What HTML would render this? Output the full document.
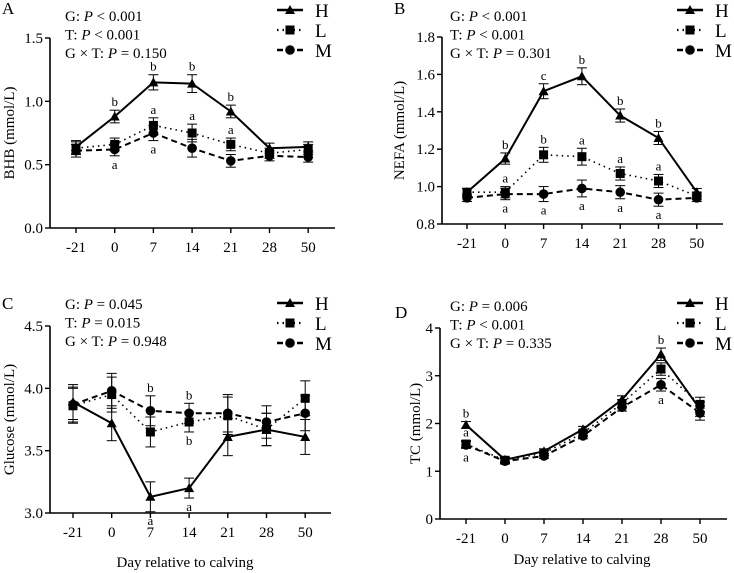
<!DOCTYPE html>
<html><head><meta charset="utf-8">
<style>
body{margin:0;background:#fff;}
svg{display:block;font-family:"Liberation Serif",serif;}
</style></head>
<body>
<svg id="fig" width="734" height="573" viewBox="0 0 734 573" xmlns="http://www.w3.org/2000/svg"></svg>
<script>
const days = ["-21","0","7","14","21","28","50"];
const seriesNames = ["H","L","M"];
// Panel A BHB
const bhbH = [0.64,0.88,1.15,1.14,0.92,0.63,0.64];
const bhbL = [0.63,0.66,0.81,0.75,0.66,0.59,0.62];
const bhbM = [0.61,0.62,0.75,0.63,0.53,0.57,0.56];
const bhbErr = [0.05,0.05,0.06,0.07,0.05,0.04,0.04];
// Panel B NEFA
const nefaH = [0.97,1.15,1.51,1.59,1.38,1.26,0.97];
const nefaL = [0.97,0.97,1.17,1.16,1.07,1.03,0.95];
const nefaM = [0.94,0.96,0.96,0.99,0.97,0.93,0.94];
const nefaErr = [0.02,0.03,0.04,0.045,0.035,0.035,0.02];
// Panel C Glucose
const gluH = [3.89,3.72,3.13,3.20,3.61,3.67,3.61];
const gluL = [3.86,3.95,3.65,3.73,3.78,3.67,3.92];
const gluM = [3.87,3.98,3.82,3.80,3.80,3.73,3.80];
const gluErr = [0.14,0.14,0.12,0.08,0.15,0.13,0.14];
// Panel D TC
const tcH = [1.97,1.24,1.42,1.88,2.50,3.45,2.30];
const tcL = [1.57,1.23,1.38,1.80,2.42,3.14,2.40];
const tcM = [1.55,1.21,1.32,1.74,2.34,2.81,2.22];
const tcErr = [0.07,0.05,0.05,0.06,0.08,0.13,0.15];
// tick labels
const ticksA = ["0.0","0.5","1.0","1.5"];
const ticksB = ["0.8","1.0","1.2","1.4","1.6","1.8"];
const ticksC = ["3.0","3.5","4.0","4.5"];
const ticksD = ["0","1","2","3","4"];
// significance letters: [series, dayIndex, letter, above(1)/below(-1)]
const lettersA = [[0,1,"b",1],[0,2,"b",1],[0,3,"b",1],[0,4,"b",1],[1,2,"a",1],[1,3,"a",1],[1,4,"a",1],[2,1,"a",-1],[2,2,"a",-1]];
const lettersB = [[0,1,"b",1],[0,2,"c",1],[0,3,"b",1],[0,4,"b",1],[0,5,"b",1],[1,1,"a",1],[1,2,"b",1],[1,3,"a",1],[1,4,"a",1],[1,5,"a",1],[2,1,"a",-1],[2,2,"a",-1],[2,3,"a",-1],[2,4,"a",-1],[2,5,"a",-1]];
const lettersC = [[2,2,"b",1],[2,3,"b",1],[1,3,"b",-1],[0,2,"a",-1],[0,3,"a",-1]];
const lettersD = [[0,0,"b",1],[1,0,"a",1],[2,0,"a",-1],[0,5,"b",1],[2,5,"a",-1]];

const NS="http://www.w3.org/2000/svg";
const svg=document.getElementById('fig');
function el(tag,attrs,parent){const e=document.createElementNS(NS,tag);for(const k in attrs)e.setAttribute(k,attrs[k]);(parent||svg).appendChild(e);return e;}

const panels=[
 {id:"a",letter:"A",ax:50,x0:76,dx:38.7,yTop:38,yBot:228,xEnd:335,min:0,max:1.5,ticks:ticksA,series:[bhbH,bhbL,bhbM],err:bhbErr,ytitle:"BHB (mmol/L)",ytx:14,lx:2,ly:14,stats:["G: |P| < 0.001","T: |P| < 0.001","G × T: |P| = 0.150"],sx:65,sy:21,legX:277,legY:10,letters:lettersA,xt:false},
 {id:"b",letter:"B",ax:442,x0:467,dx:38.3,yTop:37,yBot:224,xEnd:723,min:0.8,max:1.8,ticks:ticksB,series:[nefaH,nefaL,nefaM],err:nefaErr,ytitle:"NEFA (mmol/L)",ytx:404,lx:394,ly:14,stats:["G: |P| < 0.001","T: |P| < 0.001","G × T: |P| = 0.301","x"],sx:450,sy:21,legX:677,legY:10,letters:lettersB,xt:false},
 {id:"c",letter:"C",ax:50,x0:73,dx:38.7,yTop:326,yBot:513,xEnd:331,min:3.0,max:4.5,ticks:ticksC,series:[gluH,gluL,gluM],err:gluErr,ytitle:"Glucose (mmol/L)",ytx:14,lx:2,ly:309,stats:["G: |P| = 0.045","T: |P| = 0.015","G × T: |P| = 0.948"],sx:65,sy:309,legX:277,legY:303,letters:lettersC,xt:true,xtx:185,xty:567},
 {id:"d",letter:"D",ax:440,x0:466,dx:39,yTop:328,yBot:519,xEnd:727,min:0,max:4,ticks:ticksD,series:[tcH,tcL,tcM],err:tcErr,ytitle:"TC (mmol/L)",ytx:420,lx:395,ly:318,stats:["G: |P| = 0.006","T: |P| < 0.001","G × T: |P| = 0.335"],sx:450,sy:311,legX:677,legY:303,letters:lettersD,xt:true,xtx:582,xty:564}
];
const dashes=["none","1.5,4","6,4"];
const widths=[2,1.6,2];

function marker(g,type,x,y,name){
  let m;
  if(type===0) m=el('polygon',{points:`${x},${y-5} ${x-5},${y+4} ${x+5},${y+4}`,fill:'#000'},g);
  else if(type===1) m=el('rect',{x:x-4.5,y:y-4.5,width:9,height:9,fill:'#000'},g);
  else m=el('circle',{cx:x,cy:y,r:4.8,fill:'#000'},g);
  
  
}

function statLine(g,txt,x,y,i){
  const parts=txt.split('|');
  const t=el('text',{x:x,y:y,'font-size':15},g);
  
  
  parts.forEach((p,k)=>{const s=el('tspan',{},t);s.textContent=p;if(k===1)s.setAttribute('font-style','italic');});
}

panels.forEach(p=>{
  const g=el('g',{});
  
  
  const yS=v=>p.yBot-(v-p.min)/(p.max-p.min)*(p.yBot-p.yTop);
  const xS=i=>p.x0+i*p.dx;
  // panel letter
  const pl=el('text',{x:p.lx,y:p.ly,'font-size':17},g);pl.textContent=p.letter;
  
  // axes
  const ya=el('line',{x1:p.ax,y1:p.yTop,x2:p.ax,y2:p.yBot,stroke:'#000','stroke-width':1.6},g);
  
  const xa=el('line',{x1:p.ax,y1:p.yBot,x2:p.xEnd,y2:p.yBot,stroke:'#000','stroke-width':1.6},g);
  
  p.ticks.forEach((t,i)=>{
    const v=p.min+i*(p.max-p.min)/(p.ticks.length-1);
    const y=yS(v);
    el('line',{x1:p.ax-5,y1:y,x2:p.ax,y2:y,stroke:'#000','stroke-width':1.4},g);
    const tx=el('text',{x:p.ax-7,y:y+5,'font-size':15,'text-anchor':'end'},g);tx.textContent=t;
    
  });
  days.forEach((d,i)=>{
    const x=xS(i);
    el('line',{x1:x,y1:p.yBot,x2:x,y2:p.yBot+5,stroke:'#000','stroke-width':1.4},g);
    const tx=el('text',{x:x,y:p.yBot+24,'font-size':15,'text-anchor':'middle'},g);tx.textContent=d;
    
  });
  const cy=(p.yTop+p.yBot)/2;
  const yt=el('text',{x:0,y:0,'font-size':15,'text-anchor':'middle',transform:`translate(${p.ytx},${cy}) rotate(-90)`},g);
  yt.textContent=p.ytitle;
  if(p.xt){const xt=el('text',{x:p.xtx,y:p.xty,'font-size':15,'text-anchor':'middle'},g);xt.textContent="Day relative to calving";
    }
  // stats
  p.stats.slice(0,3).forEach((s,i)=>statLine(g,s,p.sx,p.sy+i*18.5,i));
  // series
  p.series.forEach((vals,si)=>{
    const sg=el('g',{},g);
    
    
    vals.forEach((v,i)=>{
      const x=xS(i),e=p.err[i];
      const y1=yS(v+e),y2=yS(v-e);
      el('line',{x1:x,y1:y1,x2:x,y2:y2,stroke:'#000','stroke-width':1},sg);
      el('line',{x1:x-5,y1:y1,x2:x+5,y2:y1,stroke:'#000','stroke-width':1},sg);
      el('line',{x1:x-5,y1:y2,x2:x+5,y2:y2,stroke:'#000','stroke-width':1},sg);
    });
    const pts=vals.map((v,i)=>xS(i)+','+yS(v)).join(' ');
    const pl=el('polyline',{points:pts,fill:'none',stroke:'#000','stroke-width':widths[si],'stroke-dasharray':dashes[si]},sg);
    
    vals.forEach((v,i)=>marker(sg,si,xS(i),yS(v),'point-'+seriesNames[si]+'-'+days[i]));
  });
  // letters
  p.letters.forEach(([si,di,l,dir])=>{
    const v=p.series[si][di],e=p.err[di];
    const y=dir>0?yS(v+e)-4:yS(v-e)+13;
    const t=el('text',{x:xS(di),y:y,'font-size':13,'text-anchor':'middle'},g);t.textContent=l;
    
  });
  // legend
  seriesNames.forEach((n,si)=>{
    const lg=el('g',{},g);
    
    
    const y=p.legY+si*20;
    el('line',{x1:p.legX,y1:y,x2:p.legX+26,y2:y,stroke:'#000','stroke-width':widths[si]+0.6,'stroke-dasharray':dashes[si]},lg);
    marker(lg,si,p.legX+13,y,'legend-marker-'+n);
    const t=el('text',{x:p.legX+38,y:y+7,'font-size':19},lg);t.textContent=n;
  });
});
</script>
</body></html>
